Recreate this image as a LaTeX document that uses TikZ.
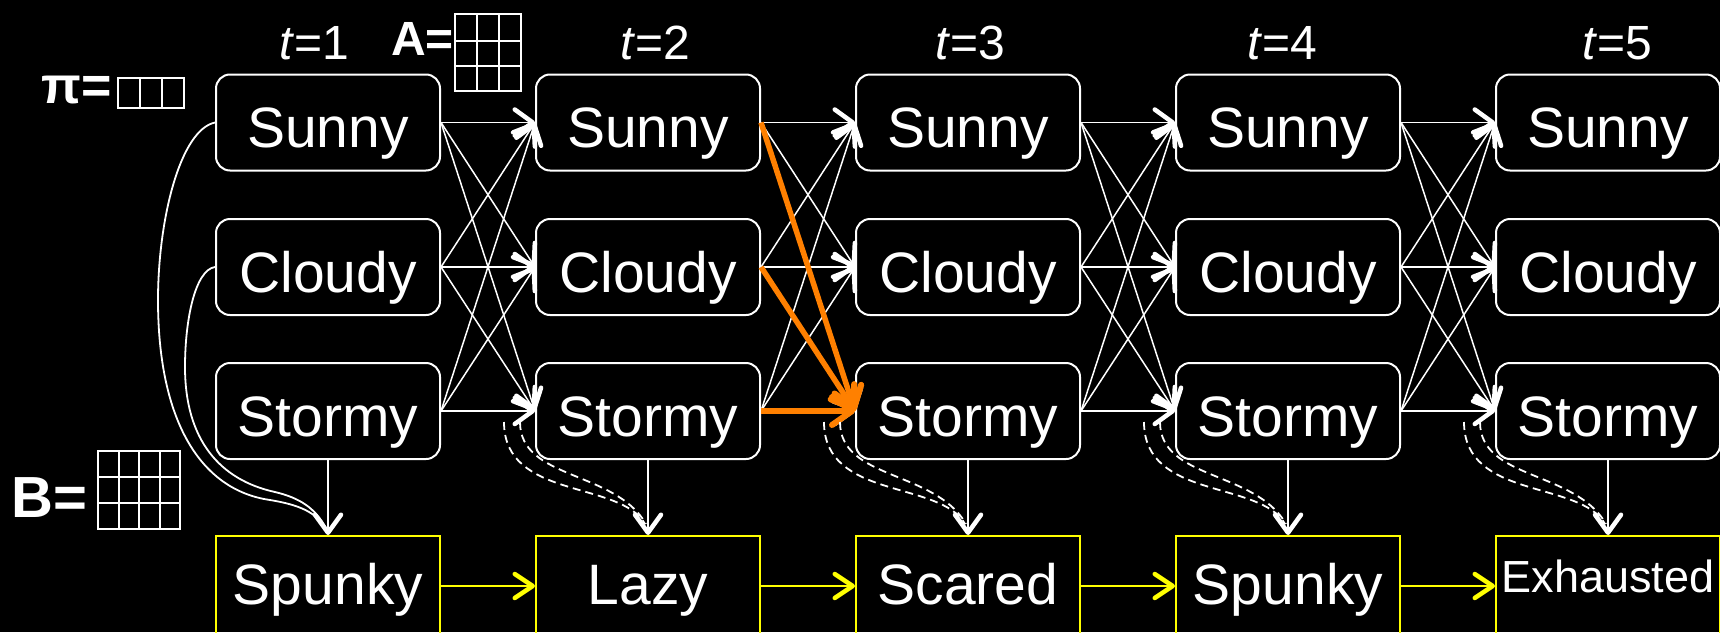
\documentclass[tikz,border=0pt]{standalone}
\usepackage{fontspec}
\setmainfont{Liberation Sans}
\usetikzlibrary{arrows.meta,calc}
\definecolor{hmmorange}{RGB}{255,128,0}
\definecolor{hmmyellow}{RGB}{255,255,0}
\newcommand\statefont{\fontsize{57}{60}\selectfont}
\newcommand\exhfont{\fontsize{45}{48}\selectfont}
\newcommand\tfont{\fontsize{48}{50}\selectfont}
\begin{document}
\begin{tikzpicture}[x=1pt,y=-1pt,
  state/.style={draw=white, line width=2pt, rounded corners=14pt,
    minimum width=224pt, minimum height=96pt, inner sep=0pt,
    text=white, font=\statefont, text height=50pt, text depth=0pt},
  obs/.style={draw=hmmyellow, line width=2pt,
    minimum width=224pt, minimum height=100pt, inner sep=0pt,
    text=white, font=\statefont, text height=36pt, text depth=0pt},
  tlab/.style={text=white, font=\tfont, anchor=base, inner sep=0pt},
  symlab/.style={text=white, anchor=base west, inner sep=0pt},
  gridline/.style={draw=white, line width=2pt},
  wtip/.style={-{Straight Barb[length=18pt,width=26pt,line width=4.5pt,round]}},
  trans/.style={draw=white, line width=1.5pt, wtip},
  hot/.style={draw=hmmorange, line width=5.5pt,
    -{Straight Barb[length=20pt,width=28pt,line width=6pt,round]}},
  emit/.style={draw=white, line width=1.5pt, wtip},
  emitcurve/.style={draw=white, line width=1.8pt},
  hidden/.style={draw=white, line width=1.8pt, dash pattern=on 8pt off 5pt},
  ytrans/.style={draw=hmmyellow, line width=2.2pt,
    -{Straight Barb[length=18pt,width=24pt,line width=4.5pt,round]}}
]
\fill[black] (0,0) rectangle (1720,632);
\useasboundingbox (0,0) rectangle (1720,632);

% state nodes
\foreach \col in {1,...,5} {
  \pgfmathsetmacro\xc{328+320*(\col-1)}
  \node[state] (s\col1) at (\xc,122.5) {Sunny};
  \node[state] (s\col2) at (\xc,267) {Cloudy};
  \node[state] (s\col3) at (\xc,411) {Stormy};
}

% observation nodes
\node[obs] (o1) at (328,586) {Spunky};
\node[obs] (o2) at (648,586) {Lazy};
\node[obs] (o3) at (968,586) {Scared};
\node[obs] (o4) at (1288,586) {Spunky};
\node[obs, font=\exhfont, text height=12pt] (o5) at (1608,586) {Exhausted};

% time labels
\node[tlab] (t1) at (314,59) {\textit{t}=1};
\node[tlab] (t2) at (655,59) {\textit{t}=2};
\node[tlab] (t3) at (970,59) {\textit{t}=3};
\node[tlab] (t4) at (1282,59) {\textit{t}=4};
\node[tlab] (t5) at (1617,59) {\textit{t}=5};

% parameter symbols
\node[symlab, font=\fontsize{52}{54}\selectfont\bfseries] (pi) at (41,103) {π=};
\node[symlab, font=\fontsize{48}{50}\selectfont\bfseries] (A) at (391,55) {A=};
\node[symlab, font=\fontsize{58}{60}\selectfont\bfseries] (B) at (11,517) {B=};

% pi grid 1x3
\draw[gridline] (118,78) rectangle (184,108);
\foreach \x in {140,162} \draw[gridline] (\x,78) -- (\x,108);
% A grid 3x3
\draw[gridline] (455,14) rectangle (521,91);
\foreach \x in {477,499} \draw[gridline] (\x,14) -- (\x,91);
\foreach \y in {40.5,66} \draw[gridline] (455,\y) -- (521,\y);
% B grid 3x4
\draw[gridline] (98,451) rectangle (180,529);
\foreach \x in {118.5,139,159.5} \draw[gridline] (\x,451) -- (\x,529);
\foreach \y in {477,503} \draw[gridline] (98,\y) -- (180,\y);

% transitions
\foreach \col/\nxt in {1/2,2/3,3/4,4/5}
  \foreach \r in {1,2,3}
    \foreach \q in {1,2,3}
      \draw[trans] (s\col\r.east) -- (s\nxt\q.west);

% highlighted path
\draw[hot] (s21.east) -- (s33.west);
\draw[hot] (s22.east) -- (s33.west);
\draw[hot] (s23.east) -- (s33.west);

% emissions at t=1
\draw[emitcurve] (s11.west) .. controls (180,130) and (158,220) .. (158,300)
  .. controls (158,420) and (200,490) .. (270,500)
  .. controls (300,505) and (315,512) .. (326,528);
\draw[emitcurve] (s12.west) .. controls (195,270) and (185,320) .. (185,367)
  .. controls (185,440) and (220,480) .. (275,492)
  .. controls (300,498) and (315,508) .. (326,528);

% hidden emissions for t=2..5
\foreach \col in {2,...,5} {
  \pgfmathsetmacro\xc{328+320*(\col-1)}
  \draw[hidden] (\xc-144,422) .. controls (\xc-144,500) and (\xc-28,480) .. (\xc-3,524);
  \draw[hidden] (\xc-128,422) .. controls (\xc-128,480) and (\xc-33,470) .. (\xc-2,524);
}

% emissions from Stormy
\foreach \col in {1,...,5}
  \draw[emit] (s\col3.south) -- (o\col.north);

% observation chain
\foreach \col/\nxt in {1/2,2/3,3/4,4/5}
  \draw[ytrans] (o\col.east) -- (o\nxt.west);
\end{tikzpicture}
\end{document}
